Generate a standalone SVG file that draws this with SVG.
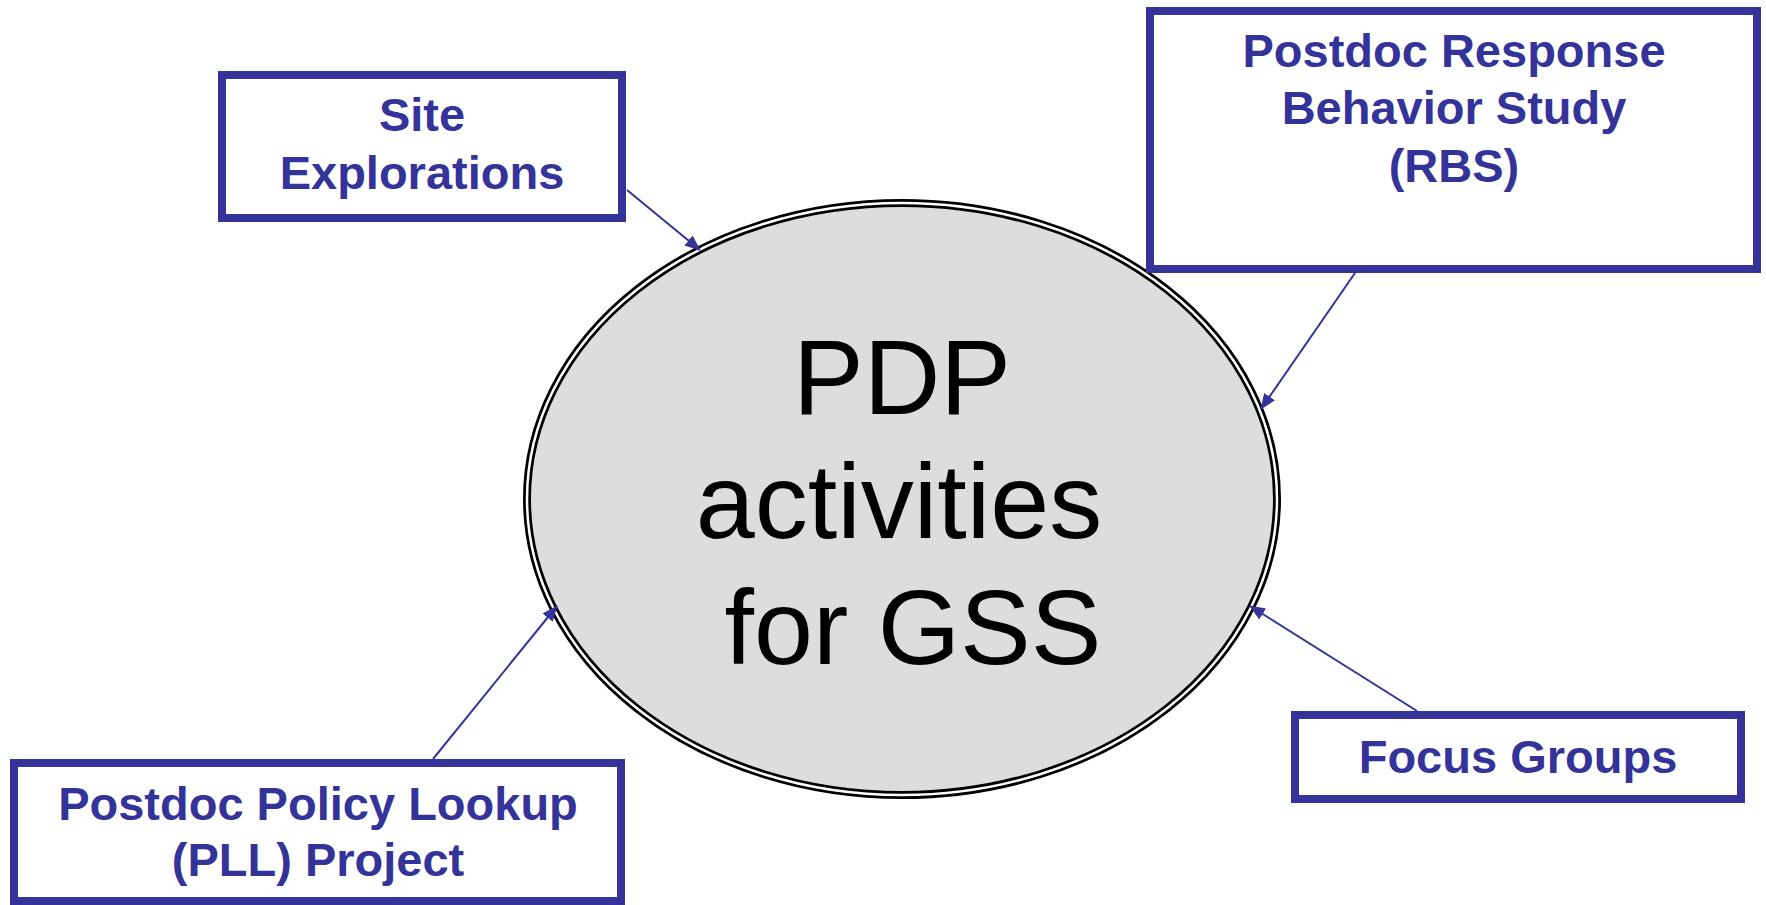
<svg xmlns="http://www.w3.org/2000/svg" width="1766" height="905" viewBox="0 0 1766 905">
<style>
.box{fill:#ffffff;stroke:#333399;stroke-width:8}
.lbl{font-family:"Liberation Sans",Arial,sans-serif;font-weight:bold;font-size:47px;fill:#333399;text-anchor:middle}
.big{font-family:"Liberation Sans",Arial,sans-serif;font-size:106px;fill:#000000;text-anchor:middle}
.conn{stroke:#333399;stroke-width:2;fill:none;marker-end:url(#arr)}
</style>
<defs>
<marker id="arr" markerUnits="userSpaceOnUse" markerWidth="16" markerHeight="13" refX="15" refY="6.5" orient="auto">
<path d="M0,0 L16,6.5 L0,13 z" fill="#333399"/>
</marker>
</defs>
<rect width="1766" height="905" fill="#ffffff"/>
<g id="center">
<ellipse cx="902" cy="499" rx="375" ry="296" fill="#dddddd" stroke="#000000" stroke-width="8"/>
<ellipse cx="902" cy="499" rx="375" ry="296" fill="none" stroke="#ffffff" stroke-width="2.5"/>
<text class="big" x="902" y="414">PDP</text>
<text class="big" x="899" y="538">activities</text>
<text class="big" x="913" y="664">for GSS</text>
</g>
<g id="site">
<rect class="box" x="222" y="75" width="400" height="143"/>
<text class="lbl" x="422" y="131">Site</text>
<text class="lbl" x="422" y="189">Explorations</text>
</g>
<g id="rbs">
<rect class="box" x="1150" y="11" width="607" height="258"/>
<text class="lbl" x="1454" y="67">Postdoc Response</text>
<text class="lbl" x="1454" y="124">Behavior Study</text>
<text class="lbl" x="1454" y="182">(RBS)</text>
</g>
<g id="pll">
<rect class="box" x="14" y="763" width="607" height="138"/>
<text class="lbl" x="318" y="820">Postdoc Policy Lookup</text>
<text class="lbl" x="318" y="876">(PLL) Project</text>
</g>
<g id="focus">
<rect class="box" x="1295" y="715" width="446" height="84"/>
<text class="lbl" x="1518" y="773">Focus Groups</text>
</g>
<g id="connectors">
<line class="conn" x1="627" y1="190" x2="700" y2="250"/>
<line class="conn" x1="1355" y1="273" x2="1261" y2="409"/>
<line class="conn" x1="1417" y1="711" x2="1250" y2="606"/>
<line class="conn" x1="433" y1="759" x2="557" y2="606"/>
</g>
</svg>
